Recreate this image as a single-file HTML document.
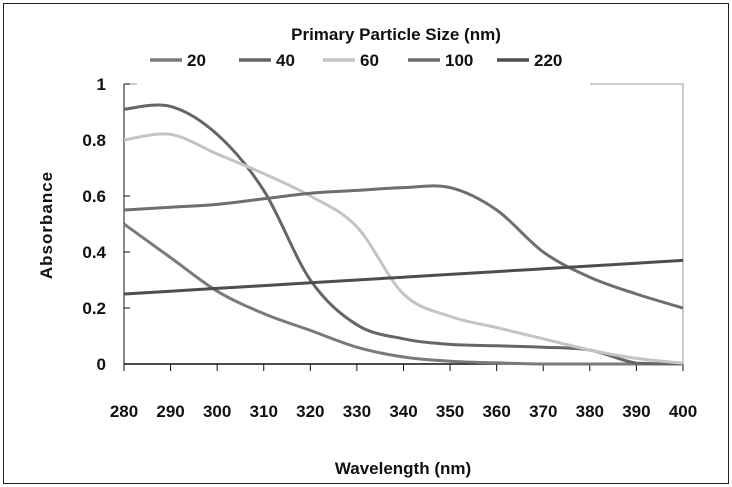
<!DOCTYPE html>
<html><head><meta charset="utf-8"><style>
body{margin:0;background:#fff;}
svg{display:block;font-family:"Liberation Sans",sans-serif;font-weight:bold;}
</style></head><body>
<svg id="chart" width="732" height="487" viewBox="0 0 732 487">
<rect x="3.5" y="3.5" width="725" height="480" fill="#fff" stroke="#222" stroke-width="1"/>
<text x="396" y="40" text-anchor="middle" font-size="17" fill="#111">Primary Particle Size (nm)</text>
<g id="legend"></g>
<g id="plot"></g>
<text transform="translate(52,225) rotate(-90)" text-anchor="middle" font-size="17" fill="#111" letter-spacing="1">Absorbance</text>
<text x="403" y="474" text-anchor="middle" font-size="17" fill="#111">Wavelength (nm)</text>
</svg>
<script>
const wavelengths=[280,290,300,310,320,330,340,350,360,370,380,390,400];
const seriesNames=["20","40","60","100","220"];
const s20=[0.50,0.38,0.26,0.18,0.12,0.06,0.025,0.01,0.004,0,0,0,0];
const s40=[0.91,0.92,0.82,0.62,0.30,0.14,0.09,0.07,0.065,0.06,0.05,0.003,0];
const s60=[0.80,0.82,0.75,0.68,0.60,0.49,0.25,0.17,0.13,0.09,0.05,0.02,0.003];
const s100=[0.55,0.56,0.57,0.59,0.61,0.62,0.63,0.63,0.55,0.40,0.31,0.25,0.20];
const s220=[0.25,0.26,0.27,0.28,0.29,0.30,0.31,0.32,0.33,0.34,0.35,0.36,0.37];
const yTicks=[0,0.2,0.4,0.6,0.8,1];
const yTickLabels=["0","0.2","0.4","0.6","0.8","1"];
const xTickLabels=["280","290","300","310","320","330","340","350","360","370","380","390","400"];
const colors=["#7a7a7a","#666","#c4c4c4","#6e6e6e","#4e4e4e"];
const allSeries=[s20,s40,s60,s100,s220];
const NS="http://www.w3.org/2000/svg";
const X0=124,X1=683,Y0=364,Y1=84;
function xs(v){return X0+(v-280)/(400-280)*(X1-X0);}
function ys(v){return Y0-(v-0)/(1-0)*(Y0-Y1);}
function mk(t,a,p){const e=document.createElementNS(NS,t);for(const k in a)e.setAttribute(k,a[k]);p.appendChild(e);return e;}
const plot=document.getElementById('plot');
let b=mk('path',{d:`M${X0} ${Y1}H137M590 ${Y1}H${X1}V${Y0}`,fill:'none',stroke:'#999','stroke-width':1},plot);


let ax=mk('line',{x1:X0,y1:Y1,x2:X0,y2:Y0,stroke:'#111','stroke-width':1},plot);


let axx=mk('line',{x1:X0,y1:Y0,x2:X1,y2:Y0,stroke:'#111','stroke-width':1.5},plot);


yTicks.forEach((v,i)=>{
 let t=mk('line',{x1:X0,y1:ys(v),x2:X0+6,y2:ys(v),stroke:'#111'},plot);
 
 
 let l=mk('text',{x:106,y:ys(v)+6,'text-anchor':'end','font-size':17,fill:'#111'},plot);
 l.textContent=yTickLabels[i];
 
 
});
wavelengths.forEach((w,i)=>{
 let t=mk('line',{x1:xs(w),y1:Y0,x2:xs(w),y2:Y0+7,stroke:'#111'},plot);
 
 
 let l=mk('text',{x:xs(w),y:417,'text-anchor':'middle','font-size':17,fill:'#111'},plot);
 l.textContent=xTickLabels[i];
 
 
});
function smooth(pts){
 let d=`M${pts[0][0]} ${pts[0][1]}`;
 for(let i=0;i<pts.length-1;i++){
  const p0=pts[i-1]||pts[i],p1=pts[i],p2=pts[i+1],p3=pts[i+2]||p2;
  const c1=[p1[0]+(p2[0]-p0[0])/6,Math.min(Y0,p1[1]+(p2[1]-p0[1])/6)];
  const c2=[p2[0]-(p3[0]-p1[0])/6,Math.min(Y0,p2[1]-(p3[1]-p1[1])/6)];
  d+=`C${c1[0]} ${c1[1]} ${c2[0]} ${c2[1]} ${p2[0]} ${p2[1]}`;
 }
 return d;
}
allSeries.forEach((s,k)=>{
 const pts=wavelengths.map((w,i)=>[xs(w),ys(s[i])]);
 let p=mk('path',{d:smooth(pts),fill:'none',stroke:colors[k],'stroke-width':3},plot);
 
 
});
const lg=document.getElementById('legend');
const lx=[150,239,323,408,497];
seriesNames.forEach((n,k)=>{
 let g=mk('g',{},lg);
 
 
 mk('line',{x1:lx[k],y1:60,x2:lx[k]+32,y2:60,stroke:colors[k],'stroke-width':3.5},g);
 let t=mk('text',{x:lx[k]+37,y:66,'font-size':17,fill:'#111'},g);
 t.textContent=n;
});
</script>
</body></html>
